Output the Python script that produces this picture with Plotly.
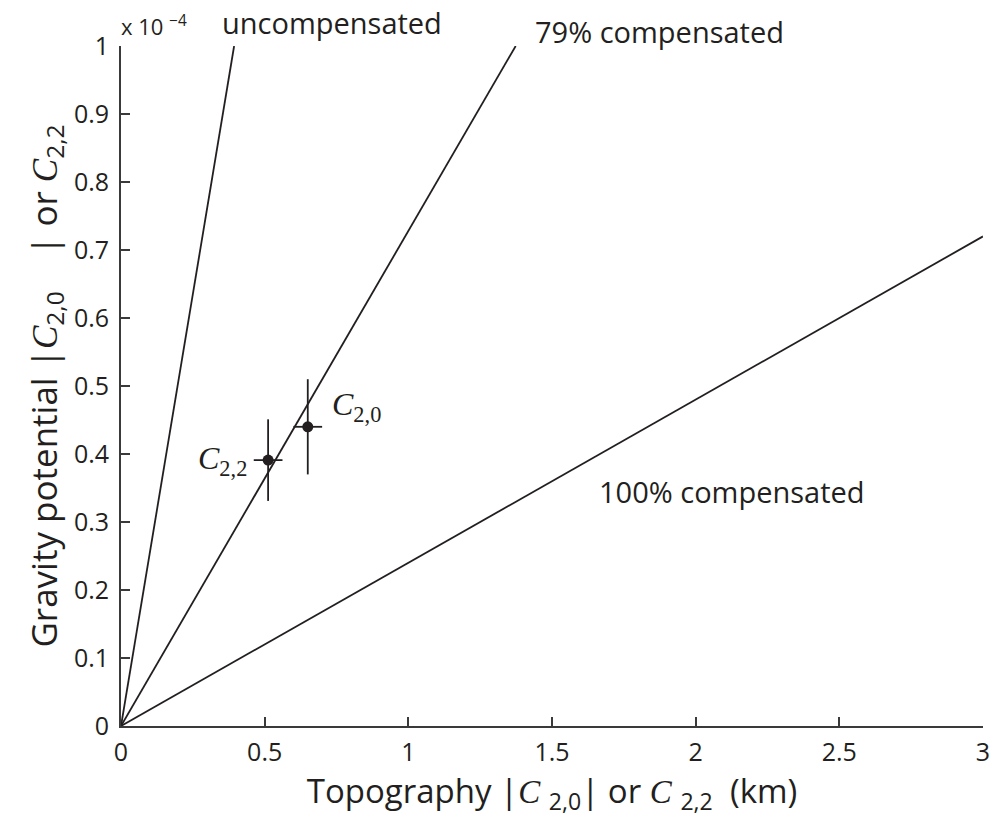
import plotly.graph_objects as go

# Gravity/topography ratios (units of 1e-4 per km) for each compensation model
models = ["uncompensated", "79% compensated", "100% compensated"]
slopes = [2.54, 0.728, 0.24]

# Measured degree-2 coefficients: topography (km) vs gravity potential (x 1e-4)
coef_names = ["C2,0", "C2,2"]
topo = [0.65, 0.512]
topo_err = [0.05, 0.05]
grav = [0.44, 0.391]
grav_err_plus = [0.07, 0.06]
grav_err_minus = [0.07, 0.06]

x_max, y_max = 3.0, 1.0
x_ticks = [0, 0.5, 1, 1.5, 2, 2.5, 3]
x_tick_text = ["0", "0.5", "1", "1.5", "2", "2.5", "3"]
y_ticks = [round(0.1 * i, 1) for i in range(11)]
y_tick_text = ["0", "0.1", "0.2", "0.3", "0.4", "0.5", "0.6", "0.7", "0.8", "0.9", "1"]

SANS = "Open Sans"
SERIF = "Liberation Serif"
INK = "#231f20"
AXIS = "#3a3a3a"

fig = go.Figure()

for name, k in zip(models, slopes):
    x_end = min(x_max, y_max / k)
    fig.add_trace(go.Scatter(
        x=[0, x_end], y=[0, k * x_end], mode="lines",
        line=dict(color=INK, width=1.8), name=name, showlegend=False,
        hoverinfo="skip"))

fig.add_trace(go.Scatter(
    x=topo, y=grav, mode="markers",
    marker=dict(color=INK, size=11),
    error_x=dict(type="data", array=topo_err, color=INK, thickness=1.8, width=0),
    error_y=dict(type="data", array=grav_err_plus, arrayminus=grav_err_minus,
                 color=INK, thickness=1.8, width=0),
    showlegend=False, name="measured"))


def sans(size):
    return dict(family=SANS, size=size, color=INK)


def serif(size):
    return dict(family=SERIF, size=size, color=INK)


annotations = [
    # coefficient labels next to the measured points
    dict(x=0.728, y=0.47, xref="x", yref="y", xanchor="left", yanchor="middle",
         text="<i>C</i><sub>2,0</sub>", showarrow=False, font=serif(32)),
    dict(x=0.445, y=0.39, xref="x", yref="y", xanchor="right", yanchor="middle",
         text="<i>C</i><sub>2,2</sub>", showarrow=False, font=serif(32)),
    # model labels
    dict(x=0.115, y=1.035, xref="paper", yref="paper", xanchor="left",
         yanchor="middle", text="uncompensated", showarrow=False, font=sans(29)),
    dict(x=0.478, y=1.022, xref="paper", yref="paper", xanchor="left",
         yanchor="middle", text="79% compensated", showarrow=False, font=sans(29)),
    dict(x=1.655, y=0.345, xref="x", yref="y", xanchor="left", yanchor="middle",
         text="100% compensated", showarrow=False, font=sans(29)),
    # axis exponent
    dict(x=-0.002, y=1.03, xref="paper", yref="paper", xanchor="left",
         yanchor="middle", text="x 10 <sup>−4</sup>", showarrow=False,
         font=sans(22)),
]

serif_c = "<span style='font-family:Liberation Serif'><i>C</i></span>"

fig.update_layout(
    width=1000, height=824,
    margin=dict(l=121, r=10, t=46, b=98),
    paper_bgcolor="white", plot_bgcolor="white",
    font=dict(family=SANS, color=INK),
    annotations=annotations,
    xaxis=dict(
        range=[0, x_max], tickmode="array", tickvals=x_ticks, ticktext=x_tick_text,
        ticks="inside", ticklen=9, tickwidth=1.5, tickcolor=AXIS,
        showline=True, linecolor=AXIS, linewidth=1.8, mirror=False,
        showgrid=False, zeroline=False, ticklabelstandoff=3,
        tickfont=sans(25),
        title=dict(
            text=(f"Topography |{serif_c} <sub>2,0</sub>| or {serif_c}"
                  " <sub>2,2</sub>  (km)"),
            font=sans(33), standoff=2),
    ),
    yaxis=dict(
        range=[0, y_max], tickmode="array", tickvals=y_ticks, ticktext=y_tick_text,
        ticks="inside", ticklen=9, tickwidth=1.5, tickcolor=AXIS,
        showline=True, linecolor=AXIS, linewidth=1.8, mirror=False,
        showgrid=False, zeroline=False, ticklabelstandoff=5,
        tickfont=sans(25),
        title=dict(
            text=(f"Gravity potential |{serif_c}<sub>2,0</sub>    | or {serif_c}"
                  "<sub>2,2</sub>"),
            font=sans(35), standoff=6),
    ),
)

fig.write_html("out.html")
